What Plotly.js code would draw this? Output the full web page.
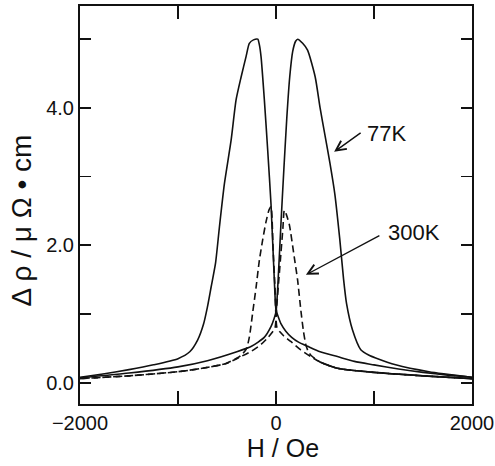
<!DOCTYPE html>
<html>
<head>
<meta charset="utf-8">
<script src="https://cdn.plot.ly/plotly-3.0.1.min.js"></script>
<style>html,body{margin:0;padding:0;background:#fff;}#chart{width:495px;height:466px;}</style>
</head>
<body>
<div id="chart"></div>
<script>
// 77 K, field swept downward (peak at negative H)
var h77Down = [2000, 1750, 1500, 1250, 1000, 800, 627, 450, 322, 230, 160, 100, 50, 20, 0, -17, -51, -85, -119, -153, -170, -186, -230, -272, -305, -356, -407, -458, -526, -577, -617, -661, -700, -740, -800, -880, -1000, -1250, -1500, -1750, -2000];
var r77Down = [0.08, 0.11, 0.15, 0.20, 0.26, 0.31, 0.38, 0.45, 0.53, 0.59, 0.66, 0.75, 0.86, 0.97, 1.06, 1.49, 2.60, 3.39, 4.12, 4.75, 4.92, 5.00, 4.99, 4.94, 4.75, 4.45, 4.12, 3.53, 2.90, 2.27, 1.74, 1.40, 1.10, 0.85, 0.62, 0.45, 0.35, 0.26, 0.19, 0.13, 0.08];
// 77 K, field swept upward (peak at positive H)
var h77Up = [-2000, -1500, -1000, -700, -400, -250, -120, -50, -20, 0, 20, 50, 80, 110, 140, 170, 200, 221, 272, 322, 400, 450, 500, 550, 600, 650, 690, 720, 780, 865, 950, 1017, 1221, 1560, 2000];
var r77Up = [0.07, 0.14, 0.23, 0.32, 0.45, 0.53, 0.66, 0.82, 0.93, 1.03, 1.45, 2.30, 3.10, 3.85, 4.45, 4.82, 4.97, 5.00, 4.94, 4.84, 4.45, 4.00, 3.60, 3.20, 2.75, 2.10, 1.50, 1.15, 0.77, 0.48, 0.40, 0.36, 0.26, 0.16, 0.08];
// 300 K, field swept downward
var h300Down = [2000, 1500, 1000, 627, 450, 356, 250, 150, 80, 40, 10, -10, -30, -51, -70, -102, -136, -170, -204, -237, -271, -300, -340, -373, -509, -750, -1000, -1500, -2000];
var r300Down = [0.06, 0.10, 0.15, 0.21, 0.30, 0.38, 0.48, 0.60, 0.68, 0.74, 0.80, 1.38, 1.96, 2.56, 2.52, 2.34, 2.08, 1.78, 1.38, 1.03, 0.67, 0.50, 0.42, 0.38, 0.28, 0.21, 0.16, 0.10, 0.06];
// 300 K, field swept upward
var h300Up = [-2000, -1500, -1000, -750, -509, -373, -250, -150, -80, -40, -10, 10, 30, 51, 70, 85, 105, 136, 186, 220, 254, 280, 305, 330, 356, 450, 627, 1000, 1500, 2000];
var r300Up = [0.06, 0.10, 0.16, 0.21, 0.28, 0.37, 0.46, 0.56, 0.66, 0.73, 0.80, 1.16, 1.52, 1.90, 2.24, 2.51, 2.45, 2.30, 1.83, 1.50, 1.05, 0.75, 0.55, 0.45, 0.40, 0.30, 0.21, 0.15, 0.10, 0.06];

var xTickVals = [-2000, -1000, 0, 1000, 2000];
var xTickText = ['\u22122000', '', '0', '', '2000'];
var yTickVals = [0, 1, 2, 3, 4, 5];
var yTickText = ['0.0', '', '2.0', '', '4.0', ''];

// common high-field tail of the 300 K data (appears as a continuous line in the figure)
var tailH = [], tailR = [];
for (var i = 0; i < h300Down.length; i++) {
  if (h300Down[i] >= 450) { tailH.push(h300Down[i]); tailR.push(r300Down[i]); }
}

var FONT = 'Liberation Sans, Arial, Helvetica, sans-serif';
function ln(dash) {
  var o = {color: '#111', width: 1.6, shape: 'spline', smoothing: 0.6};
  if (dash) o.dash = '7px,4px';
  return o;
}
var HIDE = '<span style="color:rgba(0,0,0,0)">';

var traces = [
  {x: h77Down, y: r77Down, mode: 'lines', line: ln(false), name: '77K down'},
  {x: h77Up, y: r77Up, mode: 'lines', line: ln(false), name: '77K up'},
  {x: h300Down, y: r300Down, mode: 'lines', line: ln(true), name: '300K down'},
  {x: h300Up, y: r300Up, mode: 'lines', line: ln(true), name: '300K up'},
  {x: tailH, y: tailR, mode: 'lines', line: ln(false), name: '300K tail'}
];

var layout = {
  width: 495, height: 466,
  margin: {l: 80, r: 23, t: 6, b: 62},
  paper_bgcolor: '#fff', plot_bgcolor: '#fff',
  showlegend: false,
  font: {family: FONT, color: '#111', size: 20},
  xaxis: {
    range: [-2000, 2000],
    tickvals: xTickVals, ticktext: xTickText,
    ticks: 'inside', ticklen: 13, tickwidth: 1.8, tickcolor: '#111',
    showline: true, linewidth: 2, linecolor: '#111', mirror: 'ticks',
    showgrid: false, zeroline: false,
    tickfont: {family: FONT, size: 20, color: '#111'},
    title: {text: HIDE + 'n</span>H / Oe', font: {family: FONT, size: 25, color: '#111'}, standoff: 4}
  },
  yaxis: {
    range: [-0.31, 5.483],
    tickvals: yTickVals, ticktext: yTickText,
    ticks: 'inside', ticklen: 11, tickwidth: 1.8, tickcolor: '#111',
    showline: true, linewidth: 2, linecolor: '#111', mirror: 'ticks',
    showgrid: false, zeroline: false,
    tickfont: {family: FONT, size: 20, color: '#111'},
    title: {text: '\u0394 \u03c1 / \u03bc \u03a9 \u2022 cm' + HIDE + 'nn</span>', font: {family: FONT, size: 28, color: '#111'}, standoff: 6}
  },
  annotations: [
    {x: 1130, y: 3.63, xref: 'x', yref: 'y', text: '77K', showarrow: false,
     xanchor: 'center', yanchor: 'middle', font: {family: FONT, size: 22, color: '#111'}},
    {x: 1404, y: 2.19, xref: 'x', yref: 'y', text: '300K', showarrow: false,
     xanchor: 'center', yanchor: 'middle', font: {family: FONT, size: 22, color: '#111'}},
    {x: 593, y: 3.36, xref: 'x', yref: 'y', text: '', showarrow: true,
     ax: 28, ay: -20, arrowhead: 5, arrowsize: 1.4, arrowwidth: 1.4, arrowcolor: '#111'},
    {x: 305, y: 1.57, xref: 'x', yref: 'y', text: '', showarrow: true,
     ax: 75, ay: -40, arrowhead: 5, arrowsize: 1.4, arrowwidth: 1.4, arrowcolor: '#111'}
  ]
};

Plotly.newPlot('chart', traces, layout, {staticPlot: true, displayModeBar: false});
</script>
</body>
</html>
